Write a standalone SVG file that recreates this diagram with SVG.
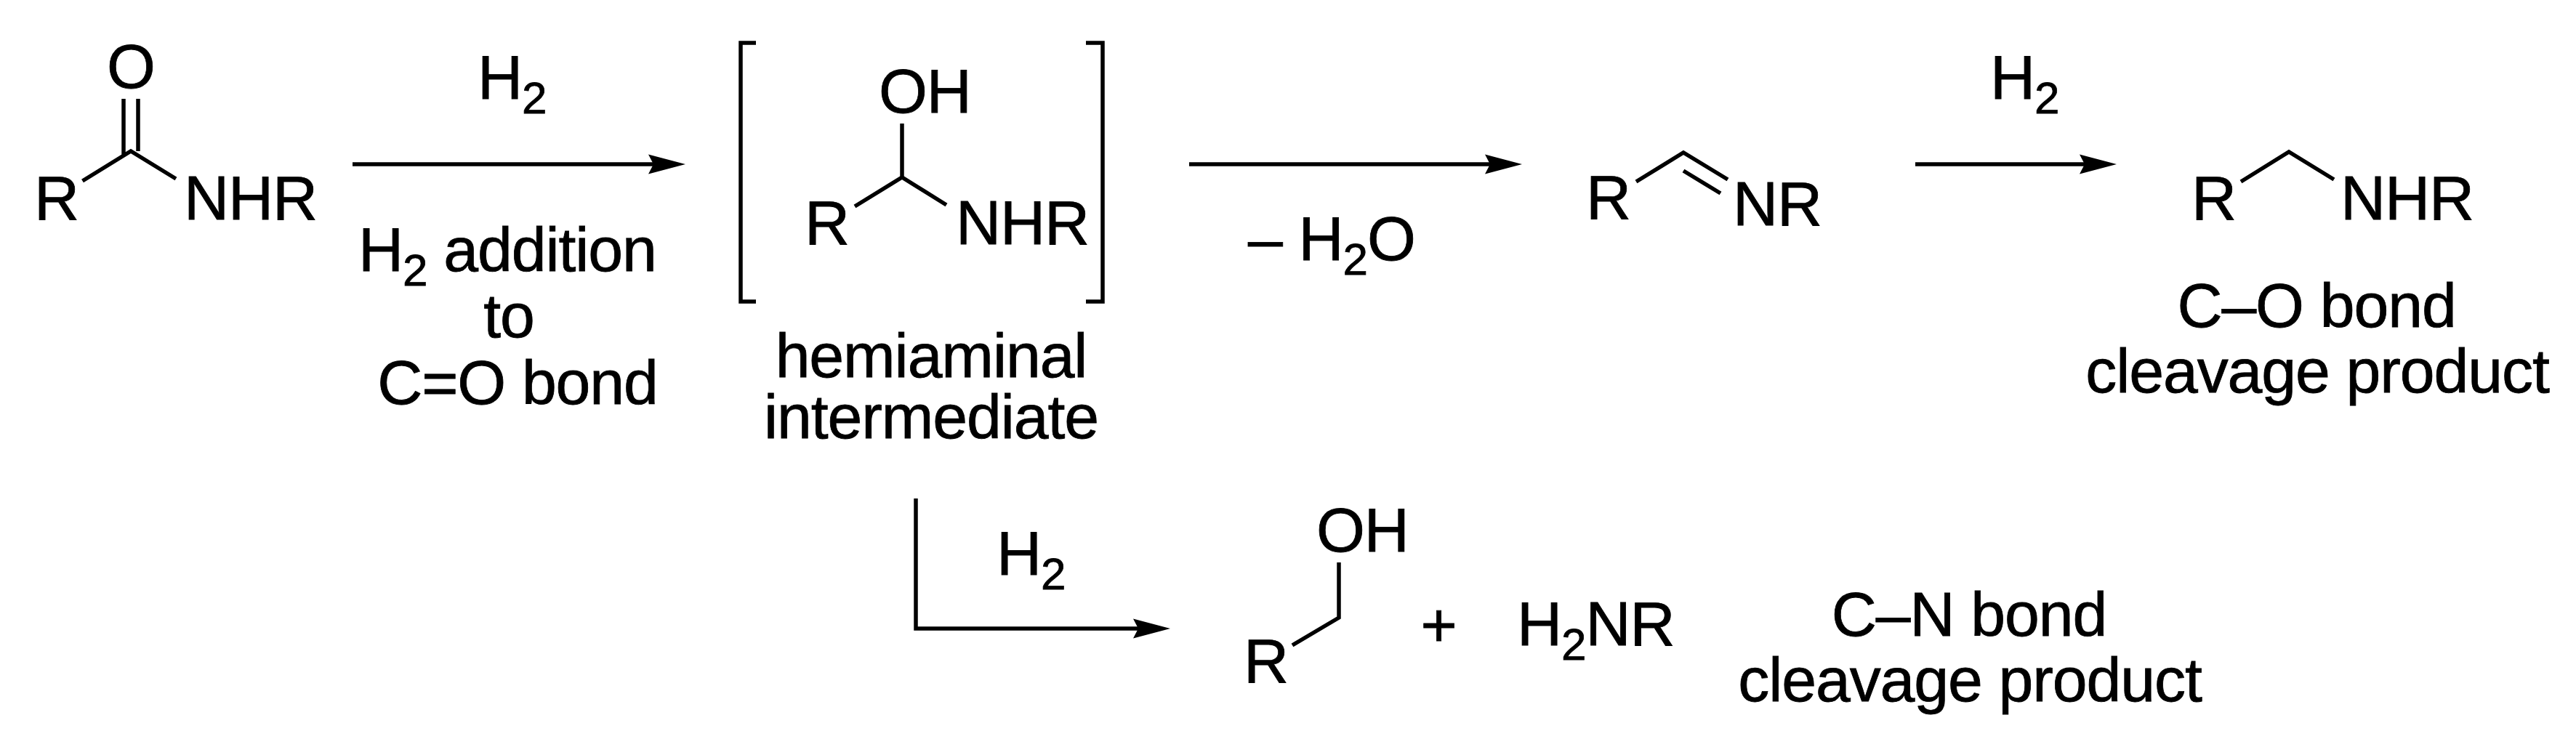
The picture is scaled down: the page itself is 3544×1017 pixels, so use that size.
<svg xmlns="http://www.w3.org/2000/svg" width="3544" height="1017" viewBox="0 0 3544 1017">
<style>
text{font-family:"Liberation Sans",Arial,sans-serif;font-size:86px;letter-spacing:-1.1px;fill:#000;stroke:#000;stroke-width:0.8px}
.m{text-anchor:middle}
.s{font-size:62px}
.b{fill:none;stroke:#000;stroke-width:5.5}
.a{fill:none;stroke:#000;stroke-width:5.5;marker-end:url(#arrow)}
</style>
<defs>
<marker id="arrow" markerUnits="userSpaceOnUse" markerWidth="52" markerHeight="28" refX="7" refY="14" orient="auto">
<path d="M0 0.5L51 14L0 27.5L7 14Z" fill="#000"/>
</marker>
</defs>
<rect width="3544" height="1017" fill="#fff"/>
<g id="amide">
<text x="180" y="121" class="m">O</text>
<path class="b" d="M170 136V214M190 136V208M113.500 249L180 208L242 246"/>
<text x="47" y="302">R</text>
<text x="253" y="302">NHR</text>
</g>
<g id="hemiaminal">
<path class="b" d="M1040 59H1019V415H1040M1494 59H1517V415H1494"/>
<text x="1209" y="155">OH</text>
<path class="b" d="M1241 170V244M1176 284L1241 244L1302 282"/>
<text x="1107" y="336">R</text>
<text x="1315" y="336">NHR</text>
<text x="1281" y="519" class="m">hemiaminal</text>
<text x="1281" y="603" class="m">intermediate</text>
</g>
<g id="imine">
<text x="2182" y="301">R</text>
<path class="b" d="M2251 250L2316 210L2377 247M2316 235L2367 266"/>
<text x="2384" y="310">NR</text>
</g>
<g id="amine">
<text x="3015" y="302">R</text>
<path class="b" d="M3083 250L3149 209L3211 247"/>
<text x="3220" y="302">NHR</text>
<text x="3187" y="450" class="m">C–O bond</text>
<text x="3188" y="540" class="m">cleavage product</text>
</g>
<g id="alcohol">
<text x="1811" y="759">OH</text>
<path class="b" d="M1842 774V850L1778 888"/>
<text x="1711" y="939">R</text>
</g>
<g id="plus"><text x="1979" y="890" class="m">+</text></g>
<g id="ammonia"><text x="2087" y="888">H<tspan class="s" dy="20">2</tspan><tspan dy="-20">NR</tspan></text></g>
<g id="cn-label">
<text x="2709" y="875" class="m">C–N bond</text>
<text x="2710" y="965" class="m">cleavage product</text>
</g>
<g id="connectors">
<path class="a" d="M485 226H899"/>
<path class="a" d="M1636 226H2050"/>
<path class="a" d="M2635 226H2868"/>
<path class="a" d="M1260 686V865H1566"/>
</g>
<g id="labels">
<text x="657" y="136">H<tspan class="s" dy="20">2</tspan></text>
<text x="493" y="373">H<tspan class="s" dy="20">2</tspan><tspan dy="-20"> addition</tspan></text>
<text x="700" y="464" class="m">to</text>
<text x="712" y="556" class="m">C=O bond</text>
<text x="1717" y="358">– H<tspan class="s" dy="20">2</tspan><tspan dy="-20">O</tspan></text>
<text x="2738" y="136">H<tspan class="s" dy="20">2</tspan></text>
<text x="1371" y="791">H<tspan class="s" dy="20">2</tspan></text>
</g>
</svg>
